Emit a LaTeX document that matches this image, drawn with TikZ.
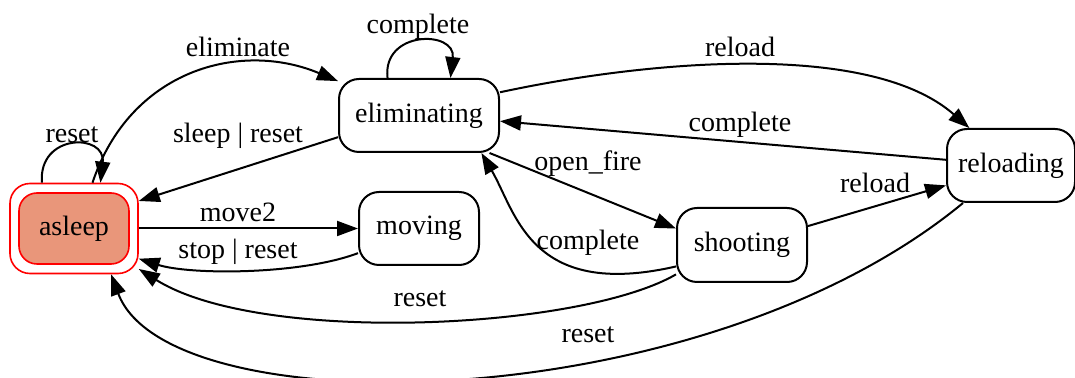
\documentclass[tikz,border=0pt]{standalone}
\usepackage{fontspec}
\setmainfont{Liberation Serif}
\usetikzlibrary{arrows.meta}
\definecolor{salmonfill}{RGB}{233,150,122}
\begin{document}
\begin{tikzpicture}[x=0.5pt,y=-0.5pt,
  st/.style={draw, line width=1pt, rounded corners=10pt, minimum height=36.5pt, inner sep=2pt, font=\fontsize{14}{16}\selectfont},
  edge/.style={draw, line width=1pt, -{Triangle[length=10.5pt,width=7.5pt]}},
  lbl/.style={inner sep=0pt, text height=0.68em, text depth=0pt, yshift=-1.5pt, font=\fontsize{14}{16}\selectfont}]
\useasboundingbox (0,0) rectangle (1075,378);
% nodes
\node[draw=red, line width=0.8pt, rounded corners=10pt, minimum width=64pt, minimum height=45pt] (asleep) at (74,228.5) {};
\node[draw=red, fill=salmonfill, line width=0.8pt, rounded corners=9pt, minimum width=55pt, minimum height=35.5pt, font=\fontsize{14}{16}\selectfont] (asleepin) at (asleep.center) {asleep};
\node[st, minimum width=80pt] (elim) at (419,115.5) {eliminating};
\node[st, minimum width=60pt] (moving) at (419,228.5) {moving};
\node[st, minimum width=65pt, minimum height=37pt] (shooting) at (742,245) {shooting};
\node[st, minimum width=64pt] (reloading) at (1011,165.5) {reloading};
% edges
\draw[edge] (asleep.125) .. controls (38,133) and (106,133) .. (asleep.60);
\draw[edge] (asleep.68) .. controls (130,70) and (240,40) .. (elim.157);
\draw[edge] (elim.195) -- (asleep.23);
\draw[edge] (asleep.east) -- (moving.west);
\draw[edge] (moving.202.5) .. controls (300,275) and (190,275) .. (asleep.-25);
\draw[edge] (elim.130) .. controls (382,30) and (456,30) .. (elim.50);
\draw[edge] (elim.16.6) .. controls (650,60) and (870,41) .. (reloading.138.3);
\draw[edge] (reloading.175) -- (elim.-4);
\draw[edge] (elim.-28) -- (shooting.166);
\draw[edge] (shooting.198) .. controls (530,300) and (516,212) .. (elim.-31);
\draw[edge] (shooting.16) -- (reloading.197);
\draw[edge] (shooting.204) .. controls (580,330) and (260,345) .. (asleep.-32);
\draw[edge] (reloading.218.4) .. controls (700,420) and (168,427) .. (asleep.-51.3);
% labels
\node[lbl] (l1) at (72,133) {reset};
\node[lbl] (l2) at (238,47) {eliminate};
\node[lbl] (l3) at (238,133) {sleep | reset};
\node[lbl] (l4) at (238,212) {move2};
\node[lbl] (l5) at (238,249) {stop | reset};
\node[lbl] (l6) at (418,24) {complete};
\node[lbl] (l7) at (740,47) {reload};
\node[lbl] (l8) at (740,122) {complete};
\node[lbl] (l9) at (588,161) {open\_fire};
\node[lbl] (l10) at (588,240) {complete};
\node[lbl] (l11) at (875,183) {reload};
\node[lbl] (l12) at (420,297) {reset};
\node[lbl] (l13) at (588,333) {reset};
\end{tikzpicture}
\end{document}
